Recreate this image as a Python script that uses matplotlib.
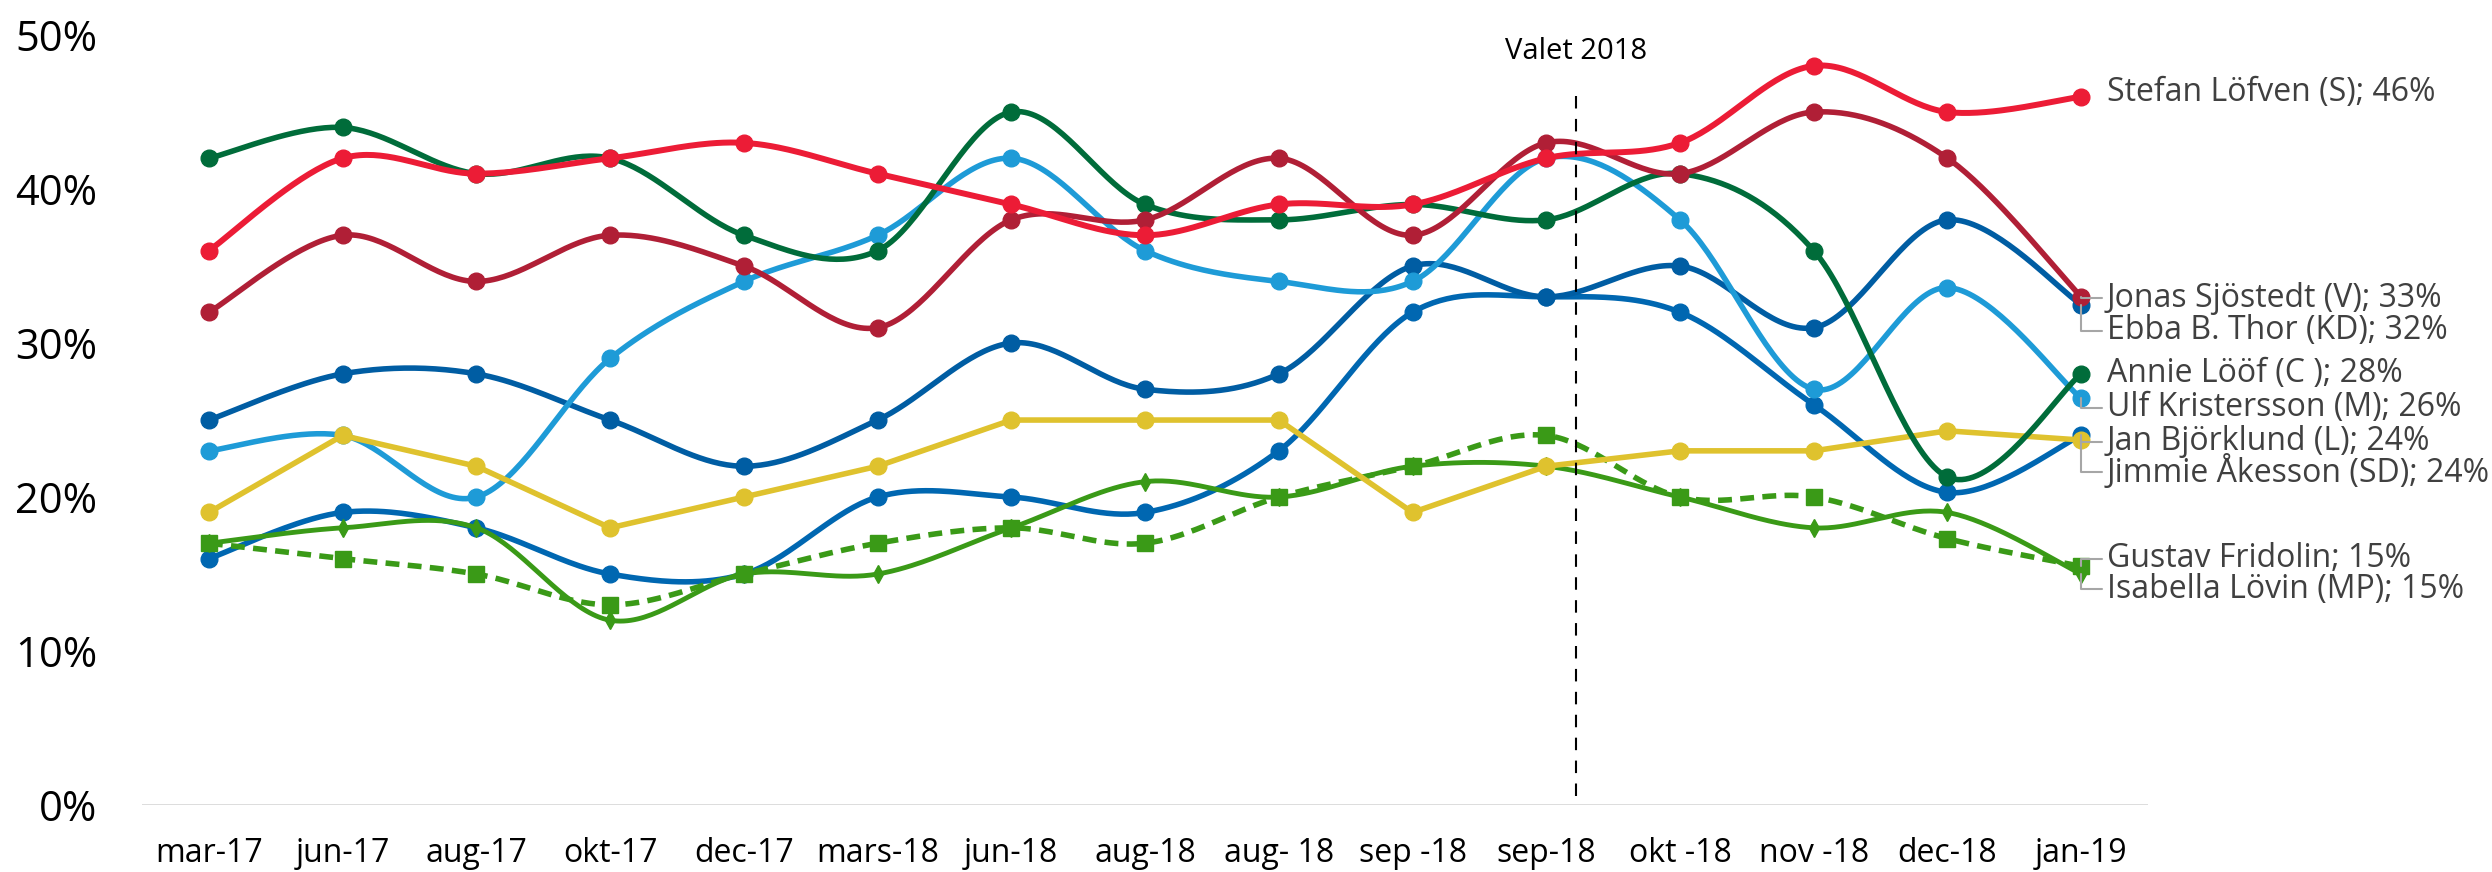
import numpy as np
import matplotlib.pyplot as plt

plt.rcParams['font.family'] = ['Open Sans', 'DejaVu Sans']

# Data (opinion %)
months = ["mar-17", "jun-17", "aug-17", "okt-17", "dec-17", "mars-18", "jun-18",
          "aug-18", "aug- 18", "sep -18", "sep-18", "okt -18", "nov -18", "dec-18", "jan-19"]

lofven = [36, 42, 41, 42, 43, 41, 39, 37, 39, 39, 42, 43, 48, 45, 46]
sjostedt = [32, 37, 34, 37, 35, 31, 38, 38, 42, 37, 43, 41, 45, 42, 33]
thor = [25, 28, 28, 25, 22, 25, 30, 27, 28, 35, 33, 35, 31, 38, 32.5]
loof = [42, 44, 41, 42, 37, 36, 45, 39, 38, 39, 38, 41, 36, 21.3, 28]
kristersson = [23, 24, 20, 29, 34, 37, 42, 36, 34, 34, 42, 38, 27, 33.6, 26.4]
bjorklund = [16, 19, 18, 15, 15, 20, 20, 19, 23, 32, 33, 32, 26, 20.3, 24]
akesson = [19, 24, 22, 18, 20, 22, 25, 25, 25, 19, 22, 23, 23, 24.3, 23.7]
fridolin = [17, 16, 15, 13, 15, 17, 18, 17, 20, 22, 24, 20, 20, 17.3, 15.5]
lovin = [17, 18, 18, 12, 15, 15, 18, 21, 20, 22, 22, 20, 18, 19, 15]

labels = ["Stefan Löfven (S); 46%", "Jonas Sjöstedt (V); 33%", "Ebba B. Thor (KD); 32%",
          "Annie Lööf (C ); 28%", "Ulf Kristersson (M); 26%", "Jan Björklund (L); 24%",
          "Jimmie Åkesson (SD); 24%", "Gustav Fridolin; 15%", "Isabella Lövin (MP); 15%"]
label_y = [46.3, 32.9, 30.8, 28.05, 25.8, 23.6, 21.6, 16.0, 14.0]


def smooth(y, n=40):
    # Excel-like smoothed line (Bezier through the points)
    pts = np.column_stack([np.arange(len(y)), np.asarray(y, float)])
    out = []
    t = np.linspace(0, 1, n)[:, None]
    for i in range(len(pts) - 1):
        p0 = pts[max(i - 1, 0)]
        p1 = pts[i]
        p2 = pts[i + 1]
        p3 = pts[min(i + 2, len(pts) - 1)]
        c1 = p1 + (p2 - p0) / 6
        c2 = p2 - (p3 - p1) / 6
        seg = (1 - t) ** 3 * p1 + 3 * (1 - t) ** 2 * t * c1 + 3 * (1 - t) * t ** 2 * c2 + t ** 3 * p2
        out.append(seg)
    out = np.vstack(out)
    return out[:, 0], out[:, 1]


fig = plt.figure(figsize=(24.92, 8.72), dpi=100)
ax = fig.add_axes([0.057, 0.0768, 0.805, 0.883])

x = np.arange(len(months))

# (values, color, smoothed, marker, markersize, linewidth, linestyle)
series = [
    (bjorklund, "#0067B1", True, "o", 12, 4, "-"),
    (thor, "#005DA3", True, "o", 12, 4, "-"),
    (kristersson, "#1E9BD7", True, "o", 12, 4, "-"),
    (lovin, "#3A9A17", True, "d", 9, 3.5, "-"),
    (fridolin, "#3A9A17", True, "s", 12, 4, (0, (2.5, 1.5))),
    (akesson, "#DFC22E", False, "o", 12, 4, "-"),
    (loof, "#006C3A", True, "o", 12, 4, "-"),
    (sjostedt, "#B01F36", True, "o", 12, 4, "-"),
    (lofven, "#EC1C36", True, "o", 12, 4.3, "-"),
]

for vals, col, sm, mk, ms, lw, ls in series:
    if sm:
        sx, sy = smooth(vals)
    else:
        sx, sy = x, np.asarray(vals, float)
    ax.plot(sx, sy, color=col, lw=lw, ls=ls, solid_capstyle="round")
    ax.plot(x, vals, ls="none", marker=mk, ms=ms, color=col, mec=col)

# Election marker
ax.plot([10.22, 10.22], [0.6, 46.6], color="black", lw=1.5, ls=(0, (6, 5)))
ax.text(10.22, 48.9, "Valet 2018", ha="center", va="center", fontsize=21, color="black")

# End labels
end_vals = [lofven[-1], sjostedt[-1], thor[-1], loof[-1], kristersson[-1],
            bjorklund[-1], akesson[-1], fridolin[-1], lovin[-1]]
for lab, ly, v in zip(labels, label_y, end_vals):
    if lab.startswith(("Stefan", "Annie")):
        ax.text(14.19, ly, lab, ha="left", va="center", fontsize=23, color="#404040")
    else:
        ax.annotate(lab, xy=(14, v), xytext=(14.19, ly), ha="left", va="center",
                    fontsize=23, color="#404040", annotation_clip=False,
                    arrowprops=dict(arrowstyle="-", color="#A6A6A6", lw=1.5,
                                    connectionstyle="angle,angleA=0,angleB=90,rad=0",
                                    relpos=(0, 0.5), shrinkA=1, shrinkB=0))

ax.axhline(0, color="#D9D9D9", lw=2, zorder=0)
ax.set_xlim(-0.5, 14.5)
ax.set_ylim(0, 50)
ax.set_xticks(x)
ax.set_xticklabels(months, fontsize=23)
ax.set_yticks([0, 10, 20, 30, 40, 50])
ax.set_yticklabels(["0%", "10%", "20%", "30%", "40%", "50%"], fontsize=30)
ax.tick_params(axis="x", length=0, pad=23)
ax.tick_params(axis="y", length=0, pad=32)
for s in ax.spines.values():
    s.set_visible(False)

fig.savefig("out.png", dpi=100)
